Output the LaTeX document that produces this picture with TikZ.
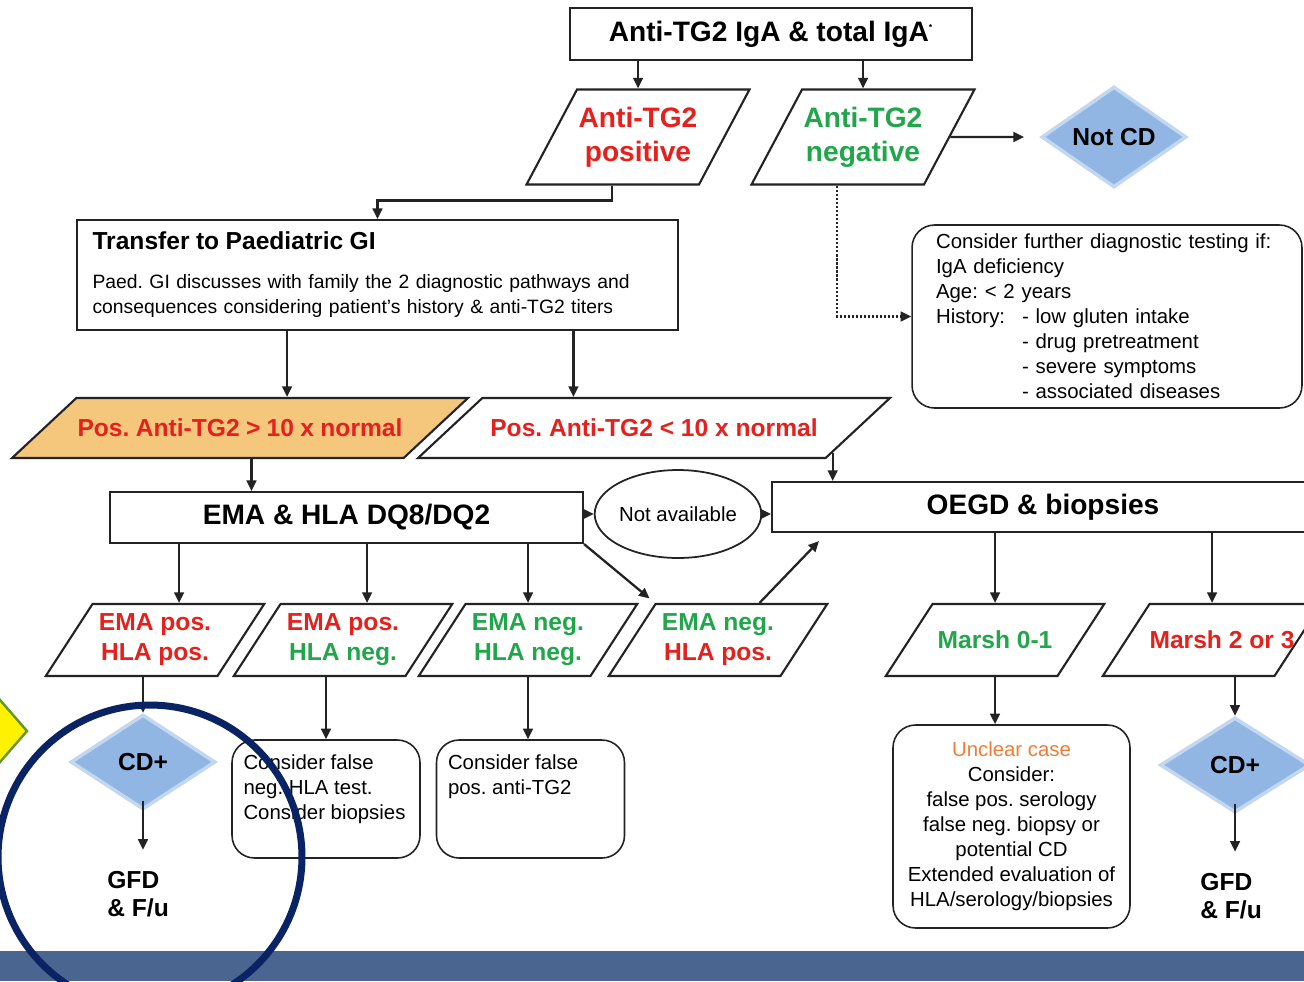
\documentclass[tikz,border=0pt]{standalone}
\usepackage{fontspec}
\setmainfont{Liberation Sans}
\usepackage{xcolor}
\usetikzlibrary{arrows.meta, calc, shapes.geometric}
\frenchspacing

\definecolor{ln}{RGB}{35,35,35}
\definecolor{redtxt}{RGB}{230,32,28}
\definecolor{greentxt}{RGB}{34,166,76}
\definecolor{cdblue}{RGB}{146,182,228}
\definecolor{orangefill}{RGB}{244,199,124}
\definecolor{unclearorange}{RGB}{240,125,55}
\definecolor{navy}{RGB}{10,35,100}
\definecolor{barblue}{RGB}{74,101,144}
\definecolor{markgreen}{RGB}{100,150,40}

\begin{document}
\begin{tikzpicture}[>={Triangle[length=6pt,width=5.5pt]}, x=0.02cm, y=-0.02cm,
    hfont/.style={font=\fontsize{16}{19.5}\selectfont\bfseries},
    mfont/.style={font=\fontsize{14}{17}\selectfont\bfseries},
    sfont/.style={font=\fontsize{11.6}{14.2}\selectfont},
    box/.style={rectangle, draw=ln, line width=1.2pt, inner sep=0pt},
    rbox/.style={rectangle, draw=ln, line width=0.9pt, rounded corners=0.45cm, inner sep=0pt},
    pbox/.style 2 args={execute at begin node={\begin{minipage}[c][#1][c]{#2}\centering},
        execute at end node={\end{minipage}}},
    para/.style={trapezium, trapezium stretches body, draw=ln, line width=1.2pt, inner sep=0pt},
    rowp/.style={trapezium left angle=57, trapezium right angle=123, minimum width=4.32cm, pbox={1.44cm}{2.5cm}, mfont},
    dia/.style={diamond, fill=cdblue, draw=cdblue!55, line width=2pt, inner sep=0pt},
    arr/.style={->, draw=ln, line width=1.3pt}]
    \useasboundingbox (0,0) rectangle (1304,981);
    \clip (0,0) rectangle (1304,981);
    \fill[white] (0,0) rectangle (1304,981);
    % Screening test
    \node[box, line width=1.6pt, minimum width=8.04cm, minimum height=1.04cm, hfont] (start) at (771,34) {Anti-TG2 IgA \& total IgA\textsuperscript{\tiny *}};
    % Test result
    \node[para, trapezium left angle=62, trapezium right angle=118, minimum width=4.46cm, pbox={1.9cm}{2.4cm}, text=redtxt, hfont] (pos) at (638,137) {Anti-TG2\\positive};
    \node[para, trapezium left angle=62, trapezium right angle=118, minimum width=4.46cm, pbox={1.9cm}{2.4cm}, text=greentxt, hfont] (neg) at (863,137) {Anti-TG2\\negative};
    \node[dia, minimum width=2.9cm, minimum height=1.9cm, mfont] (notcd) at (1114,137) {Not CD};
    \draw[arr] (pos.north |- start.south) -- (pos.north);
    \draw[arr] (neg.north |- start.south) -- (neg.north);
    \draw[arr, shorten >=9pt] (neg.east) -- (notcd.west);
    % Paediatric GI
    \node[box, minimum width=12.02cm, minimum height=2.2cm, text width=11.4cm, align=left, font=\fontsize{11}{14.2}\selectfont] (transfer) at (377.5,275)
        {{\fontsize{14}{17}\selectfont\bfseries Transfer to Paediatric GI}\\[8pt]
         Paed. GI discusses with family the 2 diagnostic pathways and\\
         consequences considering patient's history \& anti-TG2 titers};
    \draw[arr] (pos.bottom side) -- ++(0,15) -| (transfer.north);
    % Further testing
    \node[rbox, minimum width=7.8cm, minimum height=3.66cm, inner xsep=0.48cm, text width=6.84cm, align=left, sfont] (further) at (1107,316.5)
        {Consider further diagnostic testing if:\\
         IgA deficiency\\
         Age: < 2 years\\
         \makebox[1.72cm][l]{History:}- low gluten intake\\
         \hspace*{1.72cm}- drug pretreatment\\
         \hspace*{1.72cm}- severe symptoms\\
         \hspace*{1.72cm}- associated diseases};
    \draw[arr, densely dotted] (neg.bottom side) |- (further.west);
    % Titers
    \node[para, fill=orangefill, trapezium left angle=43, trapezium right angle=137, minimum width=9.12cm, pbox={1.2cm}{6.5cm}, text=redtxt, mfont] (high) at (240,428) {Pos. Anti-TG2 > 10 x normal};
    \node[para, fill=white, trapezium left angle=43, trapezium right angle=137, minimum width=9.44cm, pbox={1.2cm}{6.7cm}, text=redtxt, mfont] (low) at (654,428) {Pos. Anti-TG2 < 10 x normal};
    \coordinate (t1) at ($(transfer.south west)!0.35!(transfer.south east)$);
    \coordinate (t2) at ($(transfer.south west)!0.825!(transfer.south east)$);
    \draw[arr] (t1) -- (t1 |- high.north);
    \draw[arr] (t2) -- (t2 |- low.north);
    % EMA and endoscopy
    \node[box, minimum width=9.46cm, minimum height=1.02cm, hfont] (ema) at (346.5,517.5) {EMA \& HLA DQ8/DQ2};
    \node[ellipse, draw=ln, line width=1pt, minimum width=2.66cm, minimum height=1.76cm, inner sep=0pt, sfont] (na) at (678,514) {Not available};
    \node[box, minimum width=10.84cm, minimum height=1.0cm, hfont] (oegd) at (1043,507) {OEGD \& biopsies};
    \coordinate (e1) at ($(ema.north west)!0.30!(ema.north east)$);
    \draw[arr] (e1 |- high.south) -- (e1);
    \coordinate (l1) at ($(low.top right corner)!0.9!(low.bottom right corner)$);
    \draw[arr] (l1) -- (l1 |- oegd.north);
    \draw[arr] (ema.east |- na.west) -- (na.west);
    \draw[arr] (na.east) -- (na.east -| oegd.west);
    % EMA / HLA results
    \node[para, rowp, text=redtxt] (epp) at (155,640) {EMA pos.\\HLA pos.};
    \node[para, rowp] (epn) at (343,640) {\textcolor{redtxt}{EMA pos.}\\\textcolor{greentxt}{HLA neg.}};
    \node[para, rowp, text=greentxt] (enn) at (528,640) {EMA neg.\\HLA neg.};
    \node[para, rowp] (enp) at (718,640) {\textcolor{greentxt}{EMA neg.}\\\textcolor{redtxt}{HLA pos.}};
    \draw[arr] (epp.top side |- ema.south) -- (epp.top side);
    \draw[arr] (epn.top side |- ema.south) -- (epn.top side);
    \draw[arr] (enn.north |- ema.south) -- (enn.north);
    \draw[arr, shorten >=4pt] (ema.south east) -- (enp.top left corner);
    \draw[arr] ($(enp.top left corner)!0.6!(enp.top right corner)$) -- ($(oegd.south west)+(48,8)$);
    % Histology
    \node[para, rowp, text=greentxt] (m01) at (995,640) {Marsh 0-1};
    \node[para, rowp, pbox={1.44cm}{2.9cm}, text=redtxt] (m23) at (1212,640) {Marsh 2 or 3};
    \draw[arr] (m01.north |- oegd.south) -- (m01.north);
    \draw[arr] (m23.north |- oegd.south) -- (m23.north);
    % Outcomes
    \node[dia, minimum width=2.9cm, minimum height=1.9cm, mfont] (cd1) at (143,762) {CD+};
    \node[anchor=west, align=left, inner sep=0pt, font=\fontsize{14}{16}\selectfont\bfseries] (gfd1) at (107,894) {GFD\\\& F/u};
    \node[rbox, inner xsep=0.23cm, inner ysep=0.3cm, sfont] (fneg) at (326,799)
        {\parbox[t][1.76cm][t]{3.3cm}{\raggedright Consider false\\ neg. HLA test.\\ Consider biopsies}};
    \node[rbox, inner xsep=0.23cm, inner ysep=0.3cm, sfont] (fpos) at (530.5,799)
        {\parbox[t][1.76cm][t]{3.3cm}{\raggedright Consider false\\ pos. anti-TG2}};
    \node[rbox, minimum width=4.74cm, minimum height=4.06cm, align=center, sfont] (unclear) at (1011.5,826.5)
        {\textcolor{unclearorange}{Unclear case}\\ Consider:\\ false pos. serology\\ false neg. biopsy or\\ potential CD\\ Extended evaluation of\\ HLA/serology/biopsies};
    \node[dia, minimum width=3.0cm, minimum height=1.9cm, mfont] (cd2) at (1235,765) {CD+};
    \node[anchor=west, align=left, inner sep=0pt, font=\fontsize{14}{16}\selectfont\bfseries] (gfd2) at (1200,896) {GFD\\\& F/u};
    \draw[arr] (cd1.north |- epp.south) -- (cd1.north);
    \draw[arr] (fneg.north |- epn.south) -- (fneg.north);
    \draw[arr] (enn.south) -- (enn.south |- fpos.north);
    \draw[arr] (m01.south) -- (m01.south |- unclear.north);
    \draw[arr] (cd2.north |- m23.south) -- (cd2.north);
    \draw[arr, shorten <=-6pt, shorten >=12pt] (cd1.south) -- (cd1.south |- gfd1.north);
    \draw[arr, shorten <=-6pt, shorten >=12pt] (cd2.south) -- (cd2.south |- gfd2.north);
    % Slide overlay
    \fill[barblue] (0,951) rectangle (1304,981);
    \draw[navy, line width=4pt] (150,857) circle[radius=3.04cm];
    \draw[fill=yellow, draw=markgreen, line width=1.4pt] (-13,685) -- (27,731) -- (-13,777) -- cycle;
\end{tikzpicture}
\end{document}
